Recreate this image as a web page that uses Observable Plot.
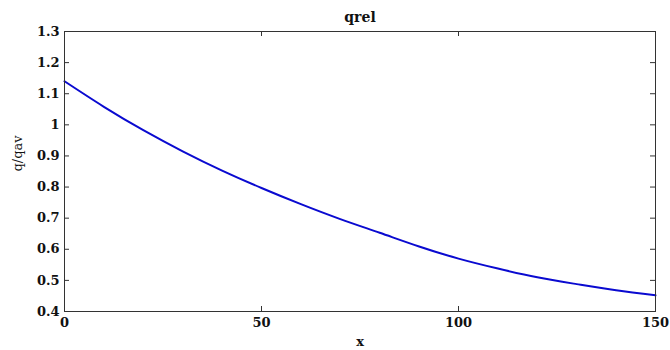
<!DOCTYPE html>
<html>
<head>
<meta charset="utf-8">
<script src="https://cdn.jsdelivr.net/npm/d3@7"></script>
<script src="https://cdn.jsdelivr.net/npm/@observablehq/plot@0.6"></script>
<style>
  html, body { margin: 0; padding: 0; background: #fff; }
</style>
</head>
<body>
<div id="chart"></div>
<script>
const title = "qrel";
const xLabel = "x";
const yLabel = "q/qav";
const xValues = [0, 10, 20, 30, 40, 50, 60, 70, 80, 90, 100, 110, 120, 130, 140, 150];
const qrel = [1.14, 1.058, 0.983, 0.915, 0.853, 0.797, 0.745, 0.697, 0.653, 0.609, 0.570, 0.538, 0.510, 0.488, 0.468, 0.452];
const xTicks = [0, 50, 100, 150];
const yTicks = [0.4, 0.5, 0.6, 0.7, 0.8, 0.9, 1, 1.1, 1.2, 1.3];

const data = xValues.map((x, i) => ({x, y: qrel[i]}));
const W = 670, H = 350;
const mL = 64, mR = 15, mT = 31, mB = 39;
const plotW = W - mL - mR, plotH = H - mT - mB;
const tl = 5;

const chart = Plot.plot({
  width: W,
  height: H,
  marginLeft: mL,
  marginRight: mR,
  marginTop: mT,
  marginBottom: mB,
  style: {fontFamily: "'DejaVu Serif', serif", fontSize: "13px", fontWeight: "bold", background: "#fff", overflow: "visible", color: "#111"},
  x: {domain: [0, 150]},
  y: {domain: [0.4, 1.3]},
  marks: [
    Plot.line(data, {x: "x", y: "y", stroke: "#0a0ad0", strokeWidth: 2, curve: "natural"}),
    Plot.frame({stroke: "#333", strokeWidth: 1}),
    Plot.tickX(xTicks, {x: d => d, stroke: "#333", insetTop: plotH - tl}),
    Plot.tickX(xTicks, {x: d => d, stroke: "#333", insetBottom: plotH - tl}),
    Plot.tickY(yTicks, {y: d => d, stroke: "#333", insetRight: plotW - tl}),
    Plot.tickY(yTicks, {y: d => d, stroke: "#333", insetLeft: plotW - tl}),
    Plot.axisX({ticks: xTicks, tickSize: 0, tickPadding: 6, fill: "#111", fontSize: 13,
      label: xLabel, labelAnchor: "center", labelArrow: "none", labelOffset: 34}),
    Plot.axisY({ticks: yTicks, tickSize: 0, tickPadding: 5, fill: "#111", fontSize: 13,
      tickFormat: d => String(d), label: null}),
    Plot.text([yLabel], {frameAnchor: "left", text: d => d, dx: -47, rotate: -90, fill: "#111", fontSize: 13, fontWeight: "normal"}),
    Plot.text([title], {frameAnchor: "top", text: d => d, dy: -19, fill: "#111", fontSize: 14, fontWeight: "bold"})
  ]
});
document.getElementById("chart").appendChild(chart);
</script>
</body>
</html>
